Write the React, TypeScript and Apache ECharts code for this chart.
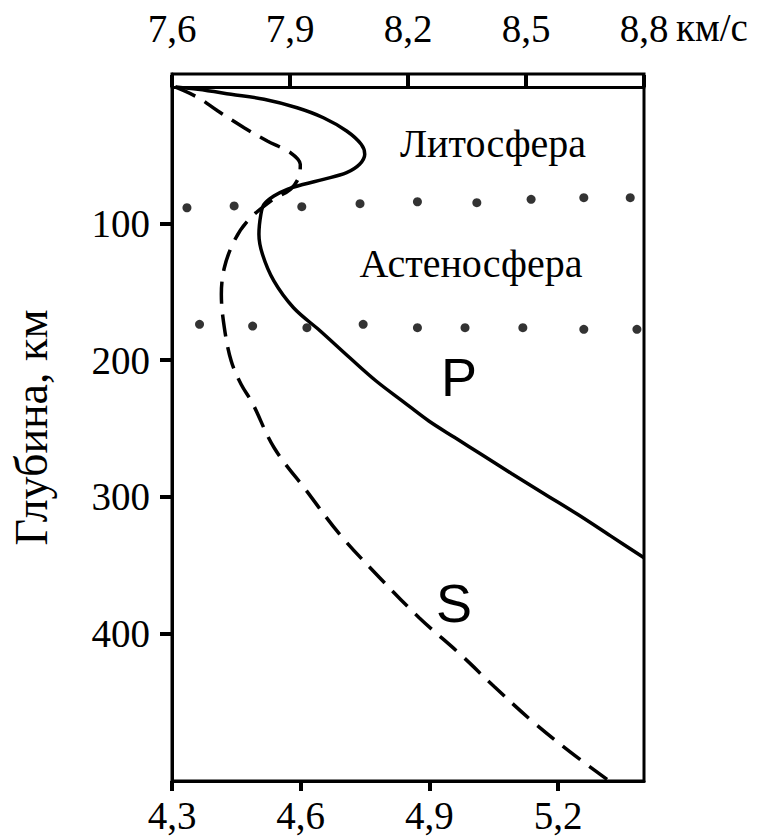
import React, { useEffect, useRef } from "react";
import * as echarts from "echarts";

// P-wave velocity (km/s, top axis) vs depth (km)
const pVelocity = [7.61, 7.666, 7.75, 7.834, 7.918, 7.985, 8.044, 8.081, 8.09, 8.077, 8.044, 7.985, 7.935, 7.893, 7.859, 7.834, 7.826, 7.821, 7.83, 7.859, 7.909, 7.977, 8.052, 8.119, 8.186, 8.253, 8.32, 8.387, 8.463, 8.547, 8.631, 8.715, 8.8];
const pDepth = [0, 1.7, 5.3, 9.0, 15.2, 22.5, 32.2, 41.9, 49.3, 56.6, 62.7, 67.6, 71.2, 74.9, 79.8, 85.9, 93.2, 107.8, 122.5, 142.0, 161.6, 178.6, 198.2, 215.2, 229.9, 244.5, 256.8, 269.0, 282.9, 297.9, 312.8, 328.6, 344.6];

// S-wave velocity (km/s, bottom axis) vs depth (km)
const sVelocity = [4.307, 4.361, 4.407, 4.468, 4.522, 4.576, 4.599, 4.595, 4.576, 4.53, 4.476, 4.445, 4.422, 4.415, 4.422, 4.438, 4.461, 4.487, 4.538, 4.614, 4.691, 4.784, 4.876, 4.972, 5.052, 5.139, 5.227, 5.314];
const sDepth = [0, 7.8, 17.6, 29.8, 39.5, 48.1, 56.6, 66.4, 74.9, 83.5, 98.1, 112.7, 132.3, 151.8, 176.2, 200.6, 217.6, 231.1, 264.1, 295.8, 327.5, 359.2, 388.5, 415.3, 439.2, 464.1, 486.5, 506.8];

// dotted boundaries (positions along the top velocity axis)
const lithoDotsVel = [7.638, 7.758, 7.93, 8.078, 8.224, 8.375, 8.513, 8.647, 8.765];
const lithoDotsDepth = [88.4, 87.1, 87.6, 85.4, 84.0, 84.7, 82.2, 81.0, 81.0];
const asthDotsVel = [7.67, 7.805, 7.943, 8.086, 8.224, 8.345, 8.492, 8.647, 8.782];
const asthDotsDepth = [173.7, 175.0, 176.2, 173.7, 176.2, 176.2, 176.2, 177.4, 177.4];

const pTicks = [7.6, 7.9, 8.2, 8.5, 8.8];
const sTicks = [4.3, 4.6, 4.9, 5.2];
const depthTicks = [100, 200, 300, 400];

const SERIF = "Liberation Serif";
const fmtDec = (v: number) => `{t|${v.toFixed(1).replace(".", ",")}}`;
const fmtInt = (v: number) => `{t|${Math.round(v)}}`;

export default function App() {
  const ref = useRef<HTMLDivElement>(null);
  useEffect(() => {
    if (!ref.current) return;
    const chart = echarts.init(ref.current, undefined, { renderer: "svg" });
    const zip = (a: number[], b: number[]) => a.map((v, i) => [v, b[i]]);
    const axisLine = { show: true, lineStyle: { color: "#000", width: 3 } };
    const tickStyle = { color: "#000", width: 4 };
    const richT = { t: { color: "#000", fontFamily: SERIF, fontSize: 39, fontWeight: "normal" } };
    const labelBase = { color: "#000", fontFamily: SERIF, fontSize: 39, rich: richT };
    chart.setOption({
      animation: false,
      backgroundColor: "#fff",
      textStyle: { fontFamily: SERIF, color: "#000" },
      grid: {
        left: 167,
        right: 119,
        top: 74,
        bottom: 56,
        show: true,
        borderColor: "#000",
        borderWidth: 3,
        backgroundColor: "transparent",
      },
      xAxis: [
        {
          type: "value",
          position: "top",
          min: 7.6,
          max: 8.8,
          axisLine,
          axisTick: { show: true, customValues: pTicks, length: 12, lineStyle: tickStyle },
          axisLabel: { ...labelBase, customValues: pTicks, formatter: fmtDec, margin: 26 },
          splitLine: { show: false },
        },
        {
          type: "value",
          position: "bottom",
          min: 4.3,
          max: 5.4,
          axisLine,
          axisTick: { show: true, customValues: sTicks, length: 10, lineStyle: tickStyle },
          axisLabel: { ...labelBase, customValues: sTicks, formatter: fmtDec, margin: 15 },
          splitLine: { show: false },
        },
      ],
      yAxis: {
        type: "value",
        inverse: true,
        min: -9.5,
        max: 508,
        axisLine,
        axisTick: { show: true, customValues: depthTicks, length: 12, lineStyle: tickStyle },
        axisLabel: { ...labelBase, customValues: depthTicks, formatter: fmtInt, margin: 22 },
        splitLine: { show: false },
        name: "Глубина, км",
        nameLocation: "middle",
        nameRotate: 90,
        nameGap: 118,
        nameTextStyle: { color: "#000", fontFamily: SERIF, fontSize: 46 },
      },
      graphic: [
        { type: "text", left: 676, top: 8, style: { text: "км/с", font: `39px ${SERIF}`, fill: "#000" } },
        { type: "text", x: 493, y: 143, style: { text: "Литосфера", font: `40px ${SERIF}`, fill: "#000", align: "center", verticalAlign: "middle" } },
        { type: "text", x: 471, y: 263, style: { text: "Астеносфера", font: `40px ${SERIF}`, fill: "#000", align: "center", verticalAlign: "middle" } },
        { type: "text", x: 459, y: 377, style: { text: "P", font: `54px Liberation Sans`, fill: "#000", align: "center", verticalAlign: "middle" } },
        { type: "text", x: 454, y: 603, style: { text: "S", font: `54px Liberation Sans`, fill: "#000", align: "center", verticalAlign: "middle" } },
      ],
      series: [
        {
          name: "P",
          type: "line",
          xAxisIndex: 0,
          data: zip(pVelocity, pDepth),
          smooth: 0.35,
          showSymbol: false,
          lineStyle: { color: "#000", width: 3.5 },
        },
        {
          name: "S",
          type: "line",
          xAxisIndex: 1,
          data: zip(sVelocity, sDepth),
          smooth: 0.35,
          showSymbol: false,
          lineStyle: { color: "#000", width: 3.5, type: [22, 11] },
        },
        {
          name: "Литосфера-граница",
          type: "scatter",
          xAxisIndex: 0,
          data: zip(lithoDotsVel, lithoDotsDepth),
          symbolSize: 9,
          itemStyle: { color: "#000" },
        },
        {
          name: "Астеносфера-граница",
          type: "scatter",
          xAxisIndex: 0,
          data: zip(asthDotsVel, asthDotsDepth),
          symbolSize: 9,
          itemStyle: { color: "#000" },
        },
      ],
    });
    return () => chart.dispose();
  }, []);
  return (
    <div
      ref={ref}
      style={{ position: "absolute", left: 0, top: 0, width: 763, height: 837 }}
    />
  );
}
